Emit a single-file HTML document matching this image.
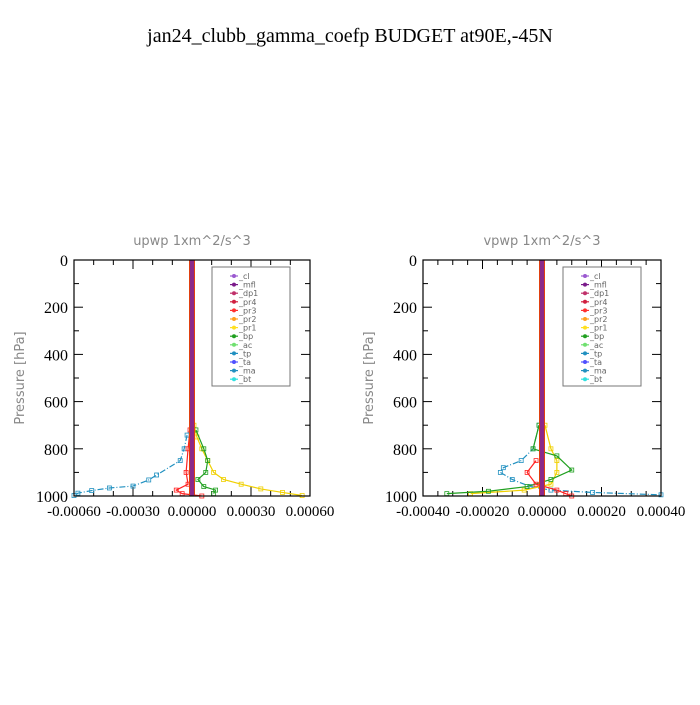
<!DOCTYPE html>
<html><head><meta charset="utf-8"><style>
body{margin:0;background:#fff;width:700px;height:700px;overflow:hidden}
svg text{font-family:"Liberation Serif",serif}
.sans{font-family:"DejaVu Sans","Liberation Sans",sans-serif!important;fill:#888}
</style></head><body>
<svg id="s" width="700" height="700" xmlns="http://www.w3.org/2000/svg">
<text x="350" y="42" text-anchor="middle" font-size="20">jan24_clubb_gamma_coefp  BUDGET at90E,-45N</text>
</svg>
<script>
// pressure levels and series values (units 1e-4)
const names=["_cl","_mfl","_dp1","_pr4","_pr3","_pr2","_pr1","_bp","_ac","_tp","_ta","_ma","_bt"];
const colors=["#9b59d0","#7a1a8a","#c0306a","#d02040","#ff3030","#ffa020","#ffe020","#20a020","#70e070","#2090c0","#5050ff","#2090c0","#30e0e0"];
const p1_tp=[[700,0],[742,-0.25],[800,-0.4],[850,-0.6],[911,-1.8],[932,-2.2],[958,-3.0],[966,-4.2],[977,-5.1],[988,-5.8],[998,-6]];
const p1_pr1=[[700,0.1],[750,0.25],[800,0.5],[850,0.8],[900,1.1],[930,1.6],[950,2.5],[970,3.5],[985,4.6],[998,5.6]];
const p1_bp=[[720,0.2],[800,0.6],[850,0.8],[900,0.7],[930,0.3],[960,0.6],[975,1.2],[990,1.1]];
const p1_pr3=[[720,-0.1],[800,-0.2],[900,-0.3],[950,-0.2],[975,-0.8],[990,-0.5],[1000,0.5]];
const p2_tp=[[700,-0.1],[800,-0.3],[850,-0.7],[880,-1.3],[900,-1.4],[930,-1.0],[960,-0.4],[975,0.3],[985,1.7],[995,4]];
const p2_bp=[[700,-0.1],[800,-0.3],[830,0.5],[890,1.0],[930,0.3],[960,-0.5],[980,-1.8],[990,-3.2]];
const p2_pr1=[[700,0.1],[800,0.3],[850,0.5],[900,0.5],[950,0.3],[975,-0.6],[990,-2.4]];
const p2_pr3=[[850,-0.2],[900,-0.5],[950,-0.2],[975,0.5],[990,0.8],[1000,1.0]];
const yTicks=[0,200,400,600,800,1000];
const x1Ticks=[-6,-3,0,3,6], x1Labels=["-0.00060","-0.00030","0.00000","0.00030","0.00060"];
const x2Ticks=[-4,-2,0,2,4], x2Labels=["-0.00040","-0.00020","0.00000","0.00020","0.00040"];
const NS="http://www.w3.org/2000/svg", svg=document.getElementById('s');
function mk(t,a,parent){const e=document.createElementNS(NS,t);for(const k in a)e.setAttribute(k,a[k]);(parent||svg).appendChild(e);return e;}
function panel(L,R,title,xmax,xT,xL,series,id){
 const T=260,B=496;
 const sx=v=>L+(v+xmax)/(2*xmax)*(R-L), sy=p=>T+p/1000*(B-T);
 const g=mk('g',{});
 
 
 const tt=mk('text',{x:(L+R)/2,y:245,'text-anchor':'middle','font-size':13,class:'sans'},g);tt.textContent=title;
 
 
 const yl=mk('text',{x:0,y:0,'text-anchor':'middle','font-size':13,class:'sans',transform:`translate(${L-50},${(T+B)/2}) rotate(-90)`},g);yl.textContent="Pressure [hPa]";
 
 
 // minor y ticks
 for(let p=0;p<=1000;p+=100){const y=sy(p),len=p%200?5:9;mk('line',{x1:L,x2:L+len,y1:y,y2:y,stroke:'#000'},g);mk('line',{x1:R,x2:R-len,y1:y,y2:y,stroke:'#000'},g);}
 yTicks.forEach(p=>{const t=mk('text',{x:L-6,y:sy(p)+6,'text-anchor':'end','font-size':16},g);t.textContent=p;
  
  });
 const step=xmax/6>=1?1:xmax/4;
 for(let v=-xmax;v<=xmax+1e-9;v+=(xmax==6?1:0.5)){const x=sx(v),maj=xT.some(t=>Math.abs(t-v)<1e-6),len=maj?9:5;
  mk('line',{x1:x,x2:x,y1:T,y2:T+len,stroke:'#000'},g);mk('line',{x1:x,x2:x,y1:B,y2:B-len,stroke:'#000'},g);}
 xT.forEach((v,i)=>{const t=mk('text',{x:sx(v),y:B+20,'text-anchor':'middle','font-size':15},g);t.textContent=xL[i];
  
  });
 series.forEach(s=>{
  const pts=s.d.map(d=>sx(d[1])+','+sy(d[0])).join(' ');
  const pl=mk('polyline',{points:pts,fill:'none',stroke:s.c,'stroke-width':1.2,'stroke-dasharray':s.dash||''},g);
  
  
  s.d.forEach(d=>mk('rect',{x:sx(d[1])-2,y:sy(d[0])-2,width:4,height:4,fill:'none',stroke:s.c,'stroke-width':0.8},g));
 });
 // thick zero line with markers
 mk('rect',{x:sx(0)-3,y:T,width:6,height:B-T,fill:'#e04010'},g);
 const z=mk('rect',{x:sx(0)-2,y:T,width:4,height:B-T,fill:'#8a2a8a'},g);
 
 
 mk('rect',{x:L,y:T,width:R-L,height:B-T,fill:'none',stroke:'#000','stroke-width':1.2},g);
 // legend
 const lg=mk('g',{},g);
 
 
 mk('rect',{x:R-98,y:267,width:78,height:119,fill:'#fff',stroke:'#777'},lg);
 names.forEach((n,i)=>{const y=276+i*8.6,x=R-72;
  mk('line',{x1:x-8,x2:x,y1:y,y2:y,stroke:colors[i],'stroke-width':1.2},lg);
  mk('circle',{cx:x-4,cy:y,r:2,fill:colors[i]},lg);
  const t=mk('text',{x:x+1,y:y+3,'font-size':8,class:'sans'},lg);t.textContent=n;t.style.fill='#666';
  
  });
}
panel(74,310,"upwp   1xm^2/s^3",6,x1Ticks,x1Labels,[
 {d:p1_tp,c:'#2090c0',dash:'6,2,1,2',n:'-tp'},{d:p1_pr1,c:'#f0d000',n:'-pr1'},{d:p1_bp,c:'#20a020',n:'-bp'},{d:p1_pr3,c:'#ff2020',n:'-pr3'}],'upwp');
panel(423,661,"vpwp   1xm^2/s^3",4,x2Ticks,x2Labels,[
 {d:p2_tp,c:'#2090c0',dash:'6,2,1,2',n:'-tp'},{d:p2_pr1,c:'#f0d000',n:'-pr1'},{d:p2_bp,c:'#20a020',n:'-bp'},{d:p2_pr3,c:'#ff2020',n:'-pr3'}],'vpwp');
</script>
</body></html>
